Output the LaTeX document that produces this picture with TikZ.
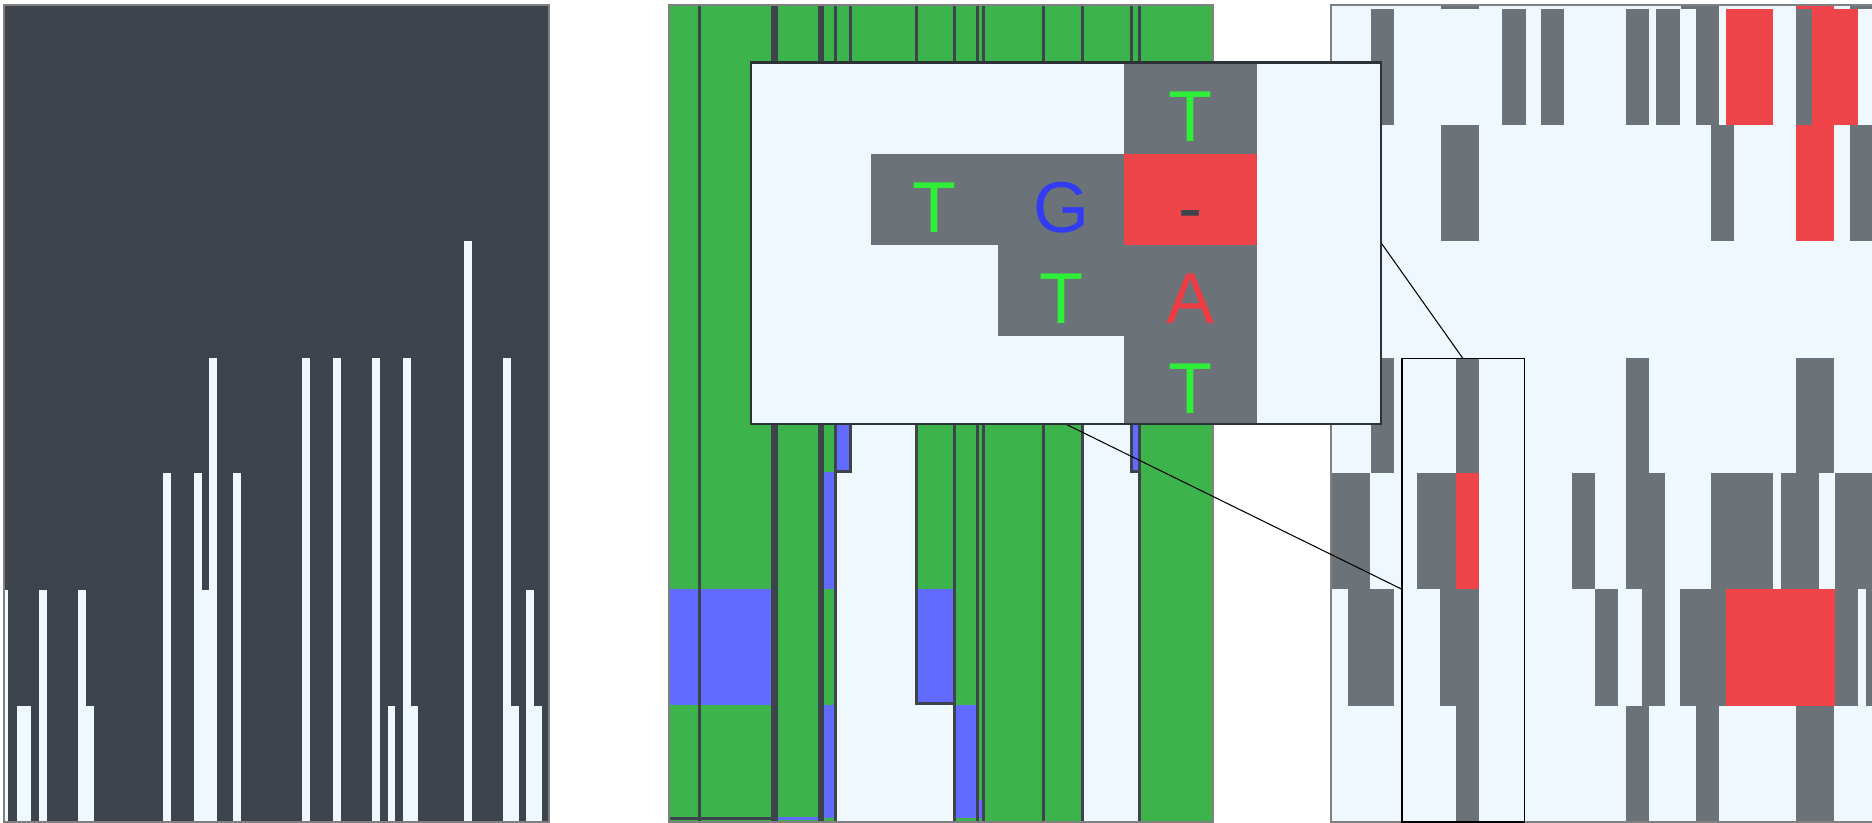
\documentclass[tikz,border=0pt]{standalone}
\usepackage{fontspec}
\setmainfont{Liberation Sans}
\definecolor{scuro}{RGB}{61,68,75}
\definecolor{chiaro}{RGB}{240,248,255}
\definecolor{grigio}{RGB}{107,114,120}
\definecolor{rosso}{RGB}{239,68,73}
\definecolor{verde}{RGB}{60,179,75}
\definecolor{blu}{RGB}{97,107,255}
\definecolor{verdeT}{RGB}{45,240,55}
\definecolor{bluG}{RGB}{50,60,245}
\definecolor{rossoA}{RGB}{238,60,68}
\begin{document}
\begin{tikzpicture}[x=0.02cm, y=-0.02cm,
    separatore/.style={draw=scuro, line width=1.7pt},
    bordo/.style={draw=gray, line width=0.6pt},
    lettera/.style={anchor=base, inner sep=0pt, font=\fontsize{41}{41}\selectfont}]
    \useasboundingbox (0,0) rectangle (1872,822);

    % Pannello sinistro
    \fill[scuro] (4,5) rectangle (549,822);
    \foreach \xa/\xb/\ya in {5/8/590, 17/31/706, 39/47/590, 78/86/590, 86/93.5/706,
        163/171/473, 194/202/473, 202/209/590, 209/217/358, 233/241/473,
        302/310/358, 333/341/358, 372/380/358, 387.5/395/706, 403/411/358,
        411/418/706, 464/472/241, 503/511/358, 511/518.5/706, 526/534/590, 534/542/706}
        \fill[chiaro] (\xa,\ya) rectangle (\xb,822);
    \draw[bordo] (4,5) rectangle (549,822);

    % Pannello centrale
    \fill[verde] (669,5) rectangle (1213,822);
    \foreach \xa/\xb/\ya/\yb in {669/699/588.5/705.2, 700/772/588.5/705.2,
        823/834/471.8/588.5, 823/834/705.2/818, 836/851/355/471.8,
        916/955/588.5/705.2, 955/977/705.2/818, 1131/1139/355/471.8,
        778/818/816.5/819.5, 979/982/800/818}
        \fill[blu] (\xa,\ya) rectangle (\xb,\yb);
    \fill[scuro] (669,816.5) rectangle (771,819.5);
    % Zone vuote
    \fill[chiaro] (851,355) -- (916,355) -- (916,705.2) -- (955,705.2) -- (955,822)
        -- (835,822) -- (835,471.8) -- (851,471.8) -- cycle;
    \fill[chiaro] (1082.5,355) -- (1131.8,355) -- (1131.8,471.8) -- (1139.3,471.8)
        -- (1139.3,822) -- (1082.5,822) -- cycle;
    % Separatori
    \foreach \xa in {699.7, 835, 954.7, 977.7, 983, 1043.7, 1082.5, 1139.3}
        \draw[separatore] (\xa,5) -- (\xa,822);
    \draw[separatore, line width=3.7pt] (774.5,5) -- (774.5,822);
    \draw[separatore, line width=3.4pt] (821,5) -- (821,822);
    \draw[separatore] (850.5,5) -- (850.5,471.8) -- (835,471.8);
    \draw[separatore] (916,5) -- (916,703.5) -- (954.7,703.5);
    \draw[separatore] (1131.8,5) -- (1131.8,471.8) -- (1139.3,471.8);
    \draw[bordo] (669,5) rectangle (1213,822);

    % Pannello destro
    \fill[chiaro] (1331,5) rectangle (1872,822);
    \foreach \xa/\xb/\ya/\yb in {1440.5/1478.5/5/8.8, 1681/1718.5/5/8.8, 1850/1872/5/8.8,
        1371/1394/8.8/125, 1502/1525.6/8.8/125, 1540.6/1564/8.8/125,
        1625.7/1649.4/8.8/125, 1656.4/1680/8.8/125, 1695.5/1718.5/8.8/125,
        1796/1811.6/8.8/125,
        1440.5/1478.5/125/241, 1710.5/1734/125/241, 1850/1872/125/241,
        1371/1394/358.3/473, 1456/1478.5/358.3/473, 1625.7/1649.4/358.3/473,
        1796/1834.3/358.3/473,
        1332/1370.4/473/589.3, 1417.4/1456/473/589.3, 1572/1594.7/473/589.3,
        1625.7/1665/473/589.3, 1710.5/1773.3/473/589.3, 1781.3/1818.6/473/589.3,
        1835/1872/473/589.3,
        1347.7/1394/589.3/705.5, 1440/1478.5/589.3/705.5, 1595.4/1618/589.3/705.5,
        1641.8/1665/589.3/705.5, 1680/1726/589.3/705.5, 1835/1858/589.3/705.5,
        1866/1872/589.3/705.5,
        1456/1478.5/705.5/822, 1625.7/1649.4/705.5/822, 1695.5/1718.5/705.5/822,
        1796/1834.3/705.5/822}
        \fill[grigio] (\xa,\ya) rectangle (\xb,\yb);
    \foreach \xa/\xb/\ya/\yb in {1796/1834/5/8.8, 1726/1773/8.8/125, 1811.6/1858/8.8/125,
        1796/1834.3/125/241, 1456/1478.5/473/589.3, 1726/1835/589.3/705.5}
        \fill[rosso] (\xa,\ya) rectangle (\xb,\yb);
    \draw[bordo] (1872,5) -- (1331,5) -- (1331,822) -- (1872,822);

    % Riquadro e linee di zoom
    \draw[black, line width=0.9pt] (1402,358.3) rectangle (1524.5,822);
    \coordinate (riqA) at (1462.8,358.3);
    \coordinate (riqB) at (1402,589.3);
    \coordinate (insA) at (1381,242.7);
    \coordinate (insB) at (1065.5,424);
    \draw[black, line width=0.6pt] (insA) -- (riqA);
    \draw[black, line width=0.6pt] (insB) -- (riqB);

    % Ingrandimento
    \fill[chiaro] (751,62.7) rectangle (1381,424);
    \fill[grigio] (1124,62.7) rectangle (1257,424);
    \fill[grigio] (870.5,154.3) rectangle (1124,245);
    \fill[grigio] (997.6,245) rectangle (1124,335.7);
    \fill[rosso] (1124,154.3) rectangle (1257,245);
    \draw[draw={rgb,255:red,45;green,50;blue,55}, line width=1.4pt] (751,62.7) rectangle (1381,424);

    \node[lettera, verdeT] (t1) at (1190.5,141.7) {T};
    \node[lettera, verdeT] (t2) at (934,232.7) {T};
    \node[lettera, bluG] (g2) at (1061,232.7) {G};
    \node[lettera, scuro] (gap2) at (1190.5,232.7) {-};
    \node[lettera, verdeT] (t3) at (1061,323.3) {T};
    \node[lettera, rossoA] (a3) at (1190.5,323.3) {A};
    \node[lettera, verdeT] (t4) at (1190.5,413.3) {T};
\end{tikzpicture}
\end{document}
